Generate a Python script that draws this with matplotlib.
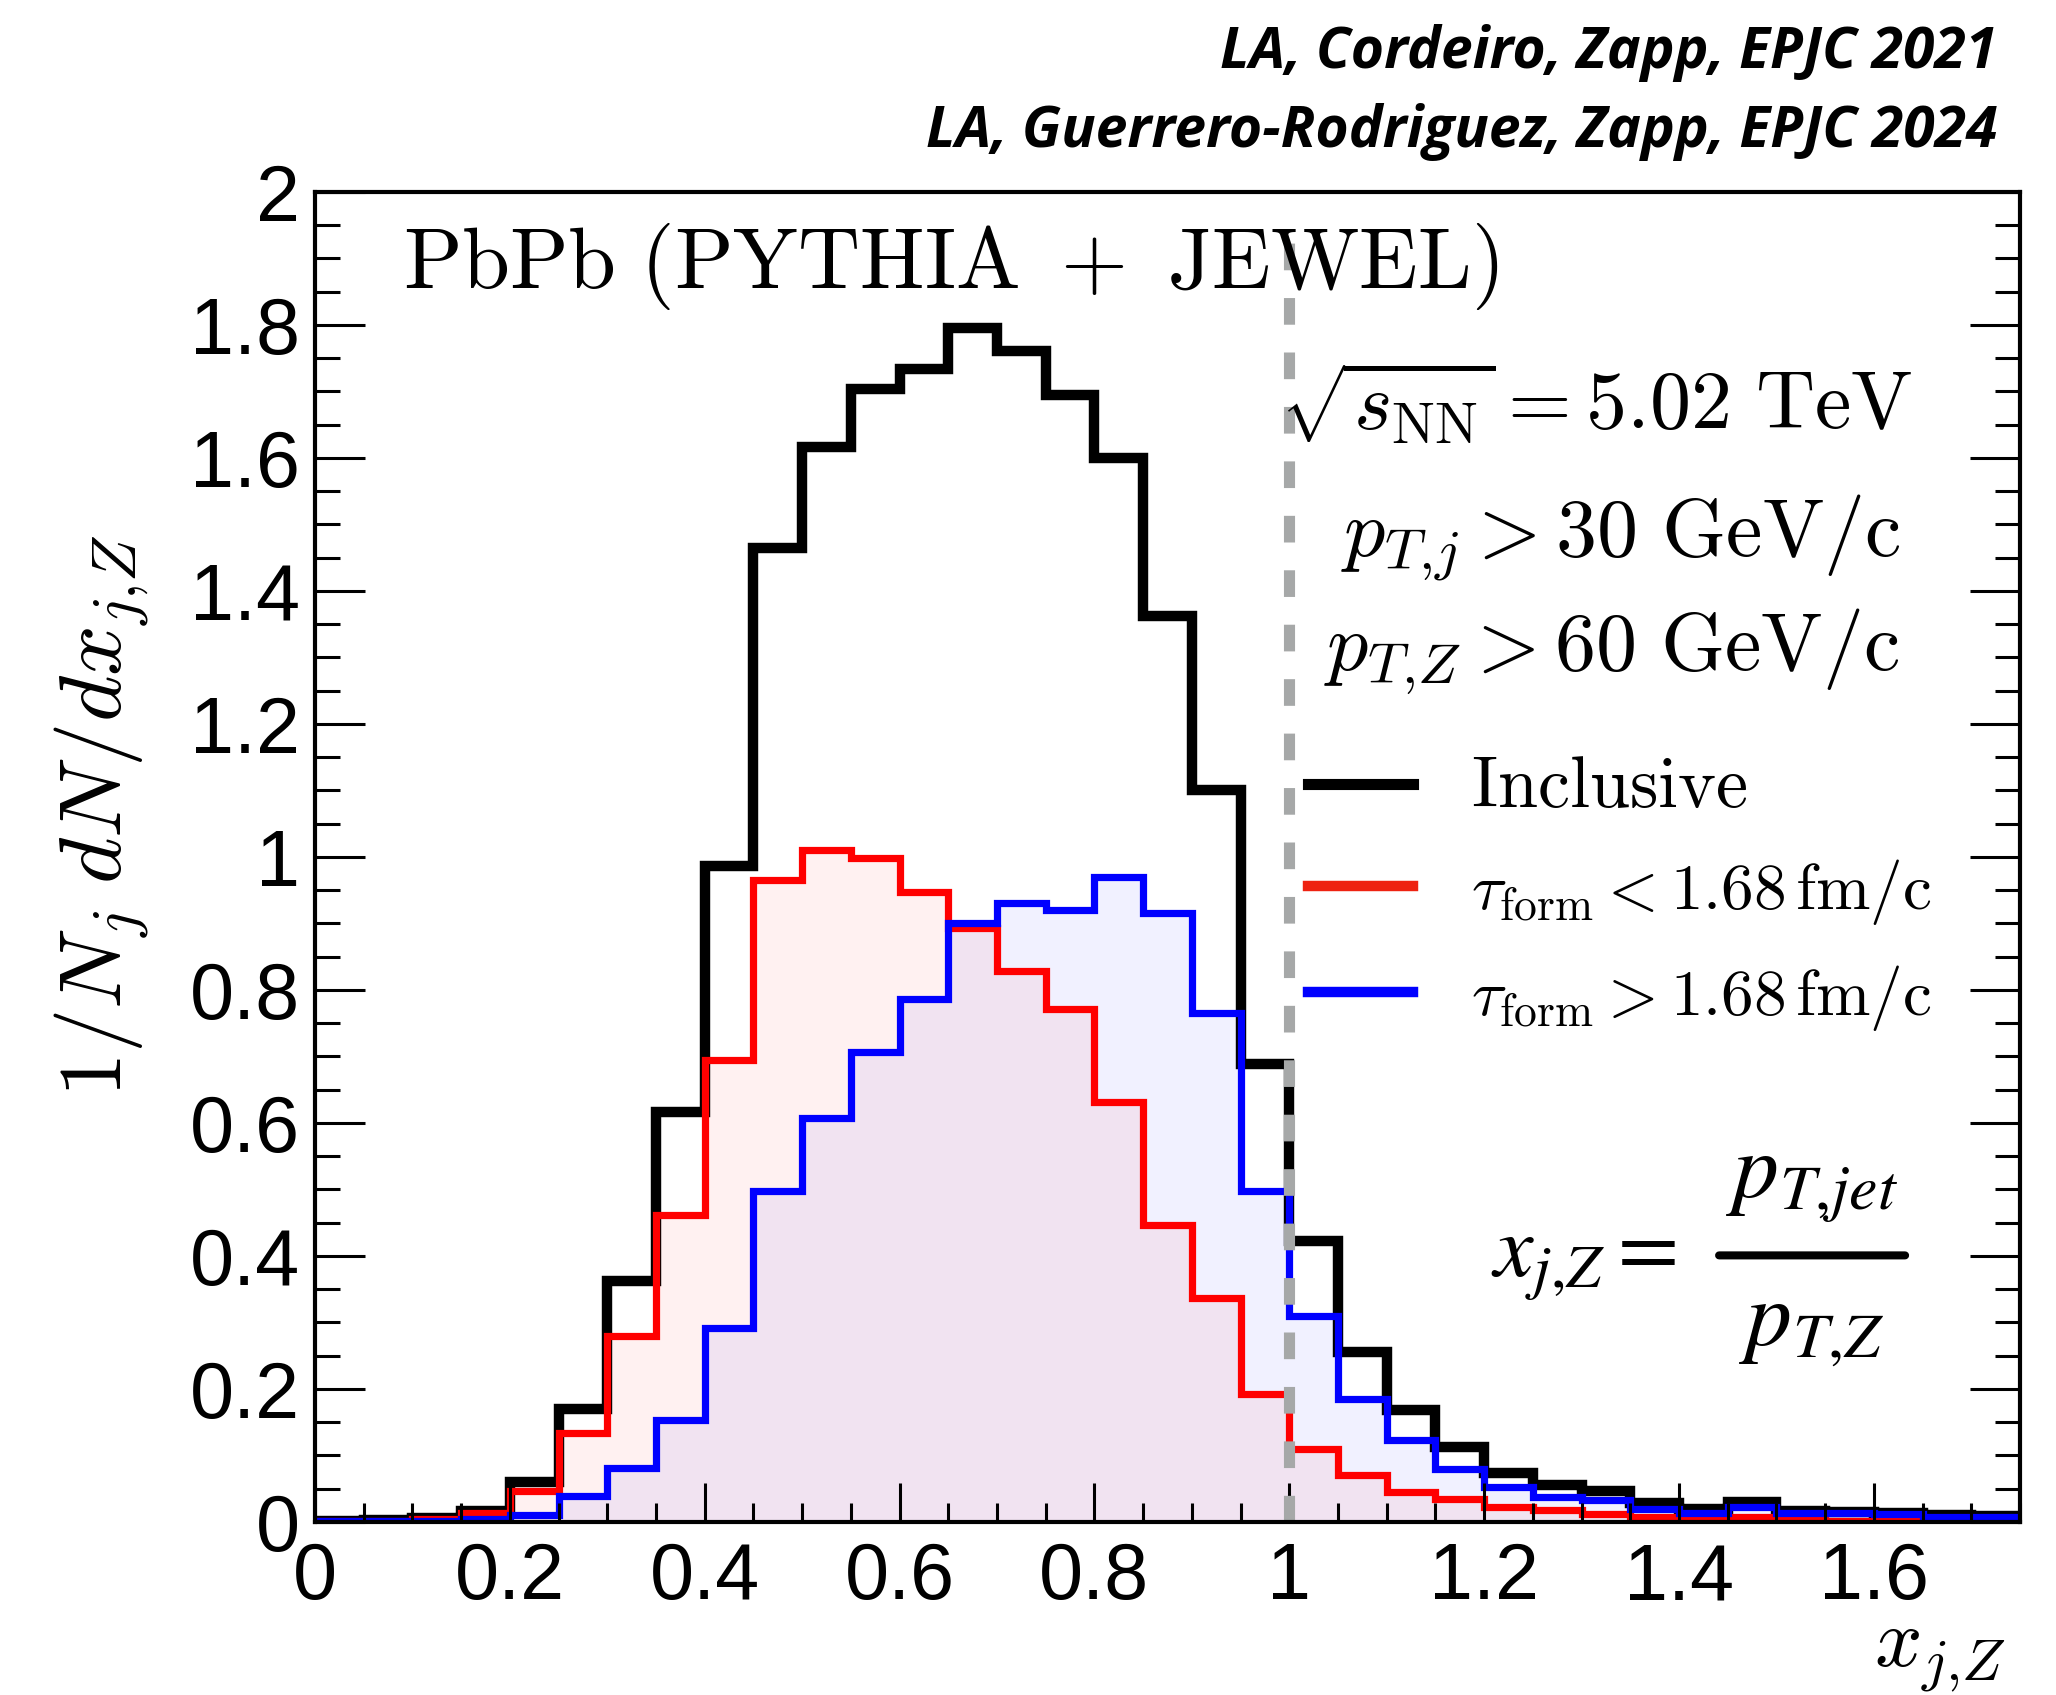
import numpy as np
import matplotlib
matplotlib.use('Agg')
import matplotlib.pyplot as plt
from matplotlib.ticker import MultipleLocator, FuncFormatter
from matplotlib.lines import Line2D

plt.rcParams['mathtext.fontset'] = 'cm'

# ---------------- data ----------------
bin_edges = np.round(np.arange(0.0, 1.7501, 0.05), 2)

inclusive = [0.002, 0.003, 0.006, 0.016, 0.060, 0.170, 0.363, 0.616, 0.986, 1.464,
             1.617, 1.704, 1.733, 1.795, 1.760, 1.695, 1.600, 1.362, 1.100, 0.689,
             0.422, 0.255, 0.168, 0.112, 0.073, 0.056, 0.047, 0.029, 0.020, 0.030,
             0.016, 0.015, 0.014, 0.010, 0.009]

tau_short = [0.001, 0.002, 0.004, 0.013, 0.046, 0.133, 0.280, 0.461, 0.694, 0.966,
             1.010, 0.998, 0.947, 0.893, 0.828, 0.772, 0.631, 0.447, 0.337, 0.193,
             0.110, 0.070, 0.045, 0.035, 0.022, 0.018, 0.012, 0.008, 0.007, 0.008,
             0.003, 0.002, 0.002, 0.001, 0.001]

tau_long = [0.001, 0.001, 0.002, 0.004, 0.011, 0.039, 0.081, 0.154, 0.292, 0.498,
            0.608, 0.707, 0.787, 0.901, 0.931, 0.920, 0.970, 0.915, 0.766, 0.497,
            0.310, 0.185, 0.123, 0.079, 0.053, 0.038, 0.033, 0.020, 0.014, 0.022,
            0.013, 0.013, 0.012, 0.008, 0.008]

ref_x = 1.0
ref_top = 1.95

labels = [r'$\mathrm{Inclusive}$',
          r'$\tau_{\mathrm{form}} < 1.68\,\mathrm{fm/c}$',
          r'$\tau_{\mathrm{form}} > 1.68\,\mathrm{fm/c}$']

# ---------------- figure ----------------
fig = plt.figure(figsize=(20.56, 16.95), dpi=100)
ax = fig.add_axes([0.1532, 0.1021, 0.8293, 0.7847])

ax.stairs(tau_long, bin_edges, fill=True, color='blue', alpha=0.055, lw=0)
ax.stairs(tau_short, bin_edges, fill=True, color='red', alpha=0.055, lw=0)

ax.stairs(inclusive, bin_edges, color='black', lw=7.5, joinstyle='miter')
ax.stairs(tau_short, bin_edges, color='#ff0000', lw=5.2, joinstyle='miter')
ax.stairs(tau_long, bin_edges, color='#0000ff', lw=5.2, joinstyle='miter')

ax.plot([ref_x, ref_x], [0, ref_top], color='#a6a8a8', lw=8,
        linestyle=(0, (2.4, 2.5)), solid_capstyle='butt', dash_capstyle='butt')

ax.set_xlim(0, 1.75)
ax.set_ylim(0, 2)

fmt = FuncFormatter(lambda v, p: f'{v:g}')
ax.xaxis.set_major_locator(MultipleLocator(0.2))
ax.xaxis.set_minor_locator(MultipleLocator(0.05))
ax.yaxis.set_major_locator(MultipleLocator(0.2))
ax.yaxis.set_minor_locator(MultipleLocator(0.05))
ax.xaxis.set_major_formatter(fmt)
ax.yaxis.set_major_formatter(fmt)

ax.tick_params(axis='both', which='both', direction='in', width=2.2,
               labelsize=57, labelfontfamily='Liberation Sans')
ax.tick_params(axis='y', which='major', length=36, left=True, right=True, pad=11)
ax.tick_params(axis='y', which='minor', length=18, left=True, right=True)
ax.tick_params(axis='x', which='major', length=28, top=False, pad=14)
ax.tick_params(axis='x', which='minor', length=14, top=False)
for s in ax.spines.values():
    s.set_linewidth(3)

ax.set_ylabel(r'$1/N_j\;dN/dx_{j{,}Z}$', fontsize=64)
ax.yaxis.set_label_coords(-0.1252, 0.531)
ax.yaxis.label.set_verticalalignment('center')
ax.yaxis.label.set_horizontalalignment('center')

ax.set_xlabel(r'$x_{j{,}Z}$', fontsize=60)
ax.xaxis.set_label_coords(0.9918, -0.108)
ax.xaxis.label.set_horizontalalignment('right')
ax.xaxis.label.set_verticalalignment('baseline')

ax.text(0.0516, 0.928, r'$\mathrm{PbPb\ (PYTHIA\ +\ JEWEL)}$', transform=ax.transAxes,
        fontsize=62, ha='left', va='baseline')
ax.text(0.566, 0.821, r'$\sqrt{s_{\mathrm{NN}}} = 5.02\ \mathrm{TeV}$', transform=ax.transAxes,
        fontsize=59, ha='left', va='baseline')
ax.text(0.602, 0.7256, r'$p_{T{,}j} > 30\ \mathrm{GeV/c}$', transform=ax.transAxes,
        fontsize=59, ha='left', va='baseline')
ax.text(0.592, 0.6406, r'$p_{T{,}Z} > 60\ \mathrm{GeV/c}$', transform=ax.transAxes,
        fontsize=59, ha='left', va='baseline')

# x_{j,Z} = p_{T,jet} / p_{T,Z}
ax.text(0.6897, 0.1842, r'$x_{j{,}Z} =$', transform=ax.transAxes,
        fontsize=64, ha='left', va='baseline', math_fontfamily='stix')
ax.text(0.878, 0.2444, r'$p_{T{,}jet}$', transform=ax.transAxes,
        fontsize=66, ha='center', va='baseline', math_fontfamily='stix')
ax.text(0.878, 0.1331, r'$p_{T{,}Z}$', transform=ax.transAxes,
        fontsize=66, ha='center', va='baseline', math_fontfamily='stix')
ax.annotate('', xy=(0.9326, 0.2004), xytext=(0.8235, 0.2004),
            xycoords='axes fraction', textcoords='axes fraction',
            arrowprops=dict(arrowstyle='-', lw=5.8, color='black',
                            shrinkA=0, shrinkB=0))

handles = [Line2D([], [], color='black', lw=8),
           Line2D([], [], color='#ee2211', lw=7.5),
           Line2D([], [], color='#0000ff', lw=7.5)]
leg = ax.legend(handles, labels, loc='center left', bbox_to_anchor=(0.5825, 0.473),
                frameon=False, fontsize=47, handlelength=1.6, handletextpad=0.9,
                labelspacing=0.54, borderpad=0, borderaxespad=0)
leg.get_texts()[0].set_fontsize(52)

fig.text(0.9713, 0.960, 'LA, Cordeiro, Zapp, EPJC 2021', ha='right', va='baseline',
         fontsize=41, family='Open Sans', weight='bold', style='italic')
fig.text(0.9713, 0.9133, 'LA, Guerrero-Rodriguez, Zapp, EPJC 2024', ha='right', va='baseline',
         fontsize=41, family='Open Sans', weight='bold', style='italic')

fig.savefig('out.png', dpi=100)
